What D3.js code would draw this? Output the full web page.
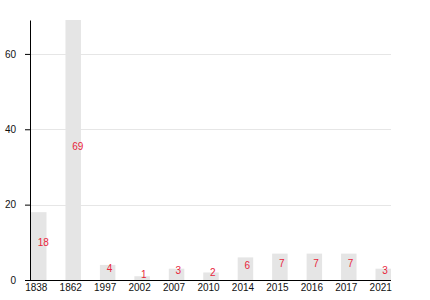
<!DOCTYPE html>
<html>
<head>
<meta charset="utf-8">
<script src="https://cdn.jsdelivr.net/npm/d3@7"></script>
<style>
  body { margin: 0; background: #fff; }
  text { font-family: "Liberation Sans", Arial, sans-serif; }
</style>
</head>
<body>
<div id="chart"></div>
<script>
// data
var years = ["1838", "1862", "1997", "2002", "2007", "2010", "2014", "2015", "2016", "2017", "2021"];
var counts = [18, 69, 4, 1, 3, 2, 6, 7, 7, 7, 3];
var yTicks = [0, 20, 40, 60];

var width = 430, height = 300;
var margin = {top: 20, right: 39, bottom: 20, left: 30};

var svg = d3.select("#chart")
  .append("svg")
    .attr("width", width)
    .attr("height", height);

// scales
var x = d3.scaleBand()
  .domain(years)
  .range([margin.left + 1, width - margin.right])
  .paddingInner(0.55)
  .paddingOuter(0);

var y = d3.scaleLinear()
  .domain([0, 69])
  .range([height - margin.bottom, margin.top]);

// gridlines
svg.append("g")
  .selectAll("line")
  .data(yTicks.filter(function(d) { return d > 0; }))
  .enter()
  .append("line")
    .attr("x1", margin.left)
    .attr("x2", width - margin.right)
    .attr("y1", function(d) { return Math.round(y(d)) + 0.5; })
    .attr("y2", function(d) { return Math.round(y(d)) + 0.5; })
    .style("stroke", "#e6e6e6");

// bars
svg.append("g")
  .selectAll("rect")
  .data(counts)
  .enter()
  .append("rect")
    .attr("x", function(d, i) { return x(years[i]); })
    .attr("y", function(d) { return y(d); })
    .attr("width", x.bandwidth())
    .attr("height", function(d) { return y(0) - y(d); })
    .style("fill", "#e5e5e5");

// value labels
svg.append("g")
  .selectAll("text")
  .data(counts)
  .enter()
  .append("text")
    .attr("x", function(d, i) { return x(years[i]) + x.bandwidth() / 2 - 1; })
    .attr("y", function(d) { return y(d / 2); })
    .style("font-size", "10px")
    .style("fill", "#e8243a")
    .text(function(d) { return d; });

// x axis
var xAxis = svg.append("g")
  .attr("transform", "translate(0," + y(0) + ")")
  .call(d3.axisBottom(x).tickSizeInner(0).tickSizeOuter(0).tickPadding(4));
xAxis.select(".domain").attr("d", "M" + margin.left + ",0.5H" + (width - margin.right));
xAxis.selectAll("text")
  .attr("dx", -2.5)
  .style("font-size", "10px")
  .style("fill", "#111");

// y axis
var yAxis = svg.append("g")
  .attr("transform", "translate(" + margin.left + ",0)")
  .call(d3.axisLeft(y).tickValues(yTicks).tickSizeInner(5).tickSizeOuter(0).tickPadding(9));
yAxis.selectAll("text")
  .style("font-size", "10px")
  .style("fill", "#111");
</script>
</body>
</html>
